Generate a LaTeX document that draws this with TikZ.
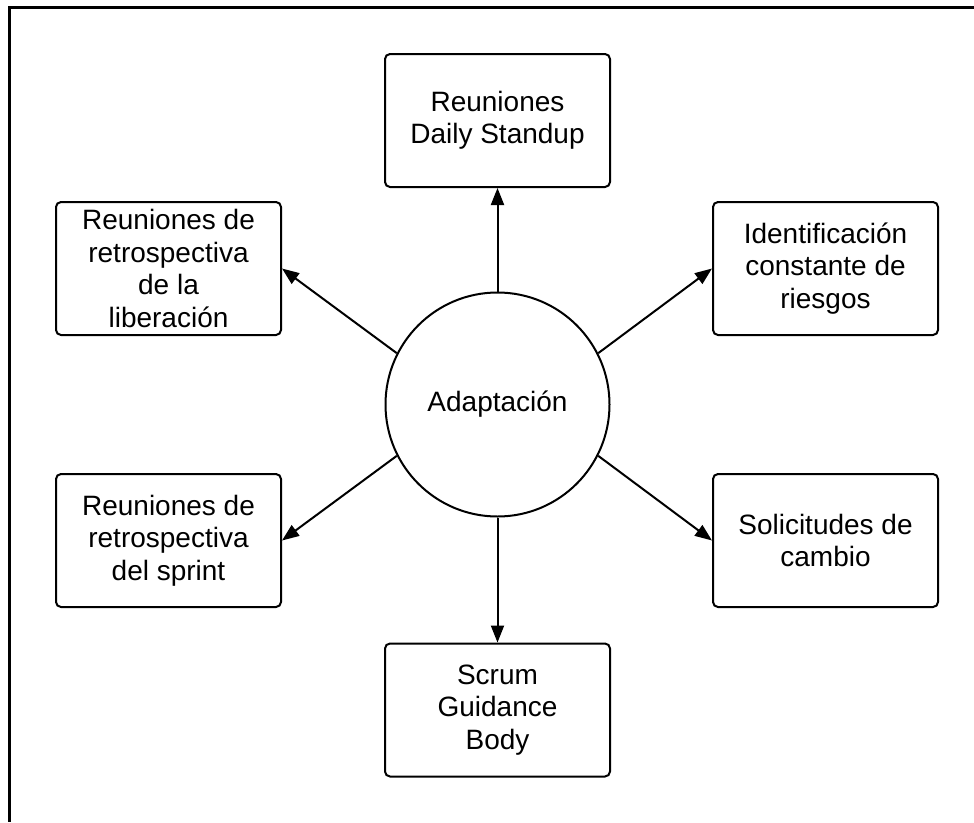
\documentclass[tikz,border=0pt]{standalone}
\usepackage{fontspec}
\setmainfont{Liberation Sans}
\usetikzlibrary{arrows.meta}
\begin{document}
\begin{tikzpicture}[x=1pt,y=-1pt,
  boxnode/.style={draw, line width=2pt, rounded corners=5pt, minimum width=225pt, minimum height=133pt, align=center, inner sep=0pt, font=\fontsize{28}{32.5}\selectfont},
  hubnode/.style={draw, circle, line width=2pt, minimum size=224pt, inner sep=0pt, font=\fontsize{28}{32.5}\selectfont},
  link/.style={line width=2pt, -{Triangle[length=17pt,width=13pt]}}]
\useasboundingbox (0,0) rectangle (974,822);
\coordinate (fa) at (974,7);
\coordinate (fb) at (9,7);
\coordinate (fc) at (9,822);
\draw[line width=3pt] (fa) -- (fb) -- (fc);
\node[hubnode] (c) at (497.5,404.5) {Adaptación};
\node[boxnode] (top) at (497.5,120.5) {Reuniones\\Daily Standup};
\node[boxnode] (lt) at (168.5,268.5) {Reuniones de\\retrospectiva\\de la\\liberación};
\node[boxnode] (rt) at (825.5,268.5) {Identificación\\constante de\\riesgos};
\node[boxnode] (lb) at (168.5,540.5) {Reuniones de\\retrospectiva\\del sprint};
\node[boxnode] (rb) at (825.5,540.5) {Solicitudes de\\cambio};
\node[boxnode] (bot) at (497.5,710) {Scrum\\Guidance\\Body};
\draw[link] (c.north) -- (top.south);
\draw[link] (c.south) -- (bot.north);
\draw[link] (c.153) -- (lt.east);
\draw[link] (c.27) -- (rt.west);
\draw[link] (c.207) -- (lb.east);
\draw[link] (c.333) -- (rb.west);
\end{tikzpicture}
\end{document}
